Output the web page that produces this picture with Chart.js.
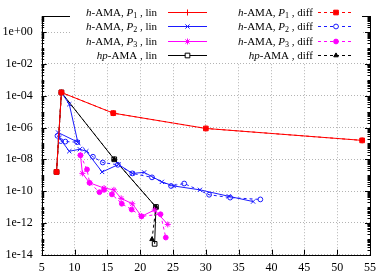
<!DOCTYPE html>
<html>
<head>
<meta charset="utf-8">
<script src="https://cdn.jsdelivr.net/npm/chart.js@4"></script>
<style>
  body { margin: 0; background: #fff; }
  canvas { display: block; }
</style>
</head>
<body>
<canvas id="errChart" width="382" height="274"></canvas>
<script>
// x axis ticks and y axis (log) ticks
const xTickStep = 5;
const yTickValues = [1e-14, 1e-12, 1e-10, 1e-8, 1e-6, 1e-4, 1e-2, 1e0];

// h-AMA, P1
const p1LinX = [7.26, 8.0, 15.9, 30.0, 53.8];
const p1LinY = [1.6e-9, 1.6e-4, 8e-6, 8.7e-7, 1.55e-7];
const p1DiffX = [7.26, 8.0, 15.9, 30.0, 53.8];
const p1DiffY = [1.6e-9, 1.6e-4, 8e-6, 8.7e-7, 1.55e-7];

// h-AMA, P2
const p2LinX = [8.0, 9.2, 10.5, 7.5, 7.7, 9.2, 10.8, 11.8, 14.2, 16.7, 18.8, 20.6, 23.3, 25.1, 29.1, 33.5, 37.2];
const p2LinY = [1.6e-4, 2.9e-5, 1.2e-7, 4.8e-7, 2.2e-7, 3.2e-8, 4.3e-8, 3.2e-8, 1.6e-9, 4.7e-9, 1.3e-9, 1.5e-9, 3.8e-10, 2.1e-10, 1.2e-10, 4.7e-11, 2.2e-11];
const p2DiffX = [7.4, 7.9, 8.6, 10.4, 12.8, 14.3, 16.6, 18.8, 21.8, 24.7, 26.7, 30.5, 33.7, 38.3];
const p2DiffY = [3.0e-7, 1.4e-7, 1.3e-7, 1.2e-7, 1.45e-8, 6.3e-9, 4.5e-9, 1.3e-9, 7.3e-10, 2.1e-10, 3.0e-10, 5.9e-11, 3.9e-11, 3.0e-11];

// h-AMA, P3
const p3LinX = [10.9, 11.2, 12.3, 14.5, 16.0, 17.1, 18.8, 20.2, 22.2, 24.2];
const p3LinY = [1.8e-8, 1.3e-9, 3.3e-10, 1.55e-10, 1.2e-10, 3.5e-11, 1.6e-11, 2.6e-12, 6.5e-12, 8e-13];
const p3DiffX = [10.9, 11.9, 12.3, 13.8, 14.5, 15.7, 17.2, 18.7, 20.2, 23.1, 23.9];
const p3DiffY = [1.8e-8, 2.3e-9, 3.3e-10, 8.5e-11, 1.2e-10, 6.2e-11, 1.6e-11, 6.9e-12, 2.6e-12, 3.5e-12, 1.2e-13];

// hp-AMA
const hpLinX = [7.26, 8.0, 16.05, 22.4, 22.2];
const hpLinY = [1.6e-9, 1.6e-4, 1e-8, 1e-11, 4.8e-14];
const hpDiffX = [7.26, 8.0, 16.05, 22.4, 21.8];
const hpDiffY = [1.6e-9, 1.6e-4, 1e-8, 1e-11, 9.3e-14];

const RED = '#ff0000';
const BLUE = '#1a1aff';
const MAG = '#ff00ff';
const BLK = '#000000';
const SERIF = '"Liberation Serif", "DejaVu Serif", serif';

function pts(xs, ys) {
    return xs.map((x, i) => ({ x: x, y: ys[i] }));
}

function markerSize(style) {
    if (style === 'rect') return 3.3;
    if (style === 'circle') return 2.4;
    if (style === 'triangle') return 2.6;
    return 3;
}

function series(label, xs, ys, color, style, fill, dashed) {
    return {
        label: label,
        data: pts(xs, ys),
        showLine: true,
        borderColor: color,
        borderWidth: 1,
        borderDash: dashed ? [3, 3] : [],
        pointStyle: style,
        pointRadius: markerSize(style),
        pointBorderColor: color,
        pointBackgroundColor: fill ? color : 'rgba(0,0,0,0)',
        pointBorderWidth: 1,
        fill: false,
        tension: 0
    };
}

function fmtExp(v) {
    const e = Math.round(Math.log10(v));
    return '1e' + (e < 0 ? '-' : '+') + String(Math.abs(e)).padStart(2, '0');
}

const legendItems = [
    { col: 0, row: 0, pre: 'h', sub: '1', tail: ' , lin', color: RED, style: 'cross', fill: false, dashed: false },
    { col: 1, row: 0, pre: 'h', sub: '1', tail: ' , diff', color: RED, style: 'rect', fill: true, dashed: true },
    { col: 0, row: 1, pre: 'h', sub: '2', tail: ' , lin', color: BLUE, style: 'crossRot', fill: false, dashed: false },
    { col: 1, row: 1, pre: 'h', sub: '2', tail: ' , diff', color: BLUE, style: 'circle', fill: false, dashed: true },
    { col: 0, row: 2, pre: 'h', sub: '3', tail: ' , lin', color: MAG, style: 'star', fill: false, dashed: false },
    { col: 1, row: 2, pre: 'h', sub: '3', tail: ' , diff', color: MAG, style: 'circle', fill: true, dashed: true },
    { col: 0, row: 3, pre: 'hp', sub: null, tail: ' , lin', color: BLK, style: 'rect', fill: false, dashed: false },
    { col: 1, row: 3, pre: 'hp', sub: null, tail: ' , diff', color: BLK, style: 'triangle', fill: true, dashed: true }
];

const legendPlugin = {
    id: 'gpLegend',
    afterDraw(chart) {
        const ctx = chart.ctx;
        ctx.save();
        ctx.fillStyle = '#fff';
        ctx.fillRect(70, 3, 292, 60);
        const textRight = [157, 313];
        const lineL = [168, 318];
        const lineR = [207, 354];
        const rowY = [12, 26, 41, 55];
        const nf = '11px ' + SERIF;
        const itf = 'italic 11px ' + SERIF;
        const sf = '8px ' + SERIF;
        legendItems.forEach(it => {
            const y = rowY[it.row];
            let parts;
            if (it.sub) {
                parts = [
                    [it.pre, itf, 0], ['-AMA, ', nf, 0], ['P', itf, 0], [it.sub, sf, 3], [it.tail, nf, 0]
                ];
            } else {
                parts = [[it.pre, itf, 0], ['-AMA', nf, 0], [it.tail, nf, 0]];
            }
            let w = 0;
            parts.forEach(p => { ctx.font = p[1]; w += ctx.measureText(p[0]).width; });
            let x = textRight[it.col] - w;
            ctx.fillStyle = '#000';
            ctx.textBaseline = 'middle';
            ctx.textAlign = 'left';
            parts.forEach(p => {
                ctx.font = p[1];
                ctx.fillText(p[0], x, y + 1 + p[2]);
                x += ctx.measureText(p[0]).width;
            });
            ctx.strokeStyle = it.color;
            ctx.lineWidth = 1;
            ctx.setLineDash(it.dashed ? [3, 3] : []);
            ctx.beginPath();
            ctx.moveTo(lineL[it.col], y + 0.5);
            ctx.lineTo(lineR[it.col], y + 0.5);
            ctx.stroke();
            ctx.setLineDash([]);
            ctx.fillStyle = it.fill ? it.color : '#fff';
            const mx = (lineL[it.col] + lineR[it.col]) / 2;
            Chart.helpers.drawPoint(ctx, {
                pointStyle: it.style,
                radius: markerSize(it.style),
                rotation: 0,
                borderWidth: 1
            }, mx, y + 0.5);
        });
        ctx.restore();
    }
};

const framePlugin = {
    id: 'gpFrame',
    afterDatasetsDraw(chart) {
        const ctx = chart.ctx;
        const a = chart.chartArea;
        const xs = chart.scales.x;
        const ys = chart.scales.y;
        ctx.save();
        ctx.strokeStyle = '#000';
        ctx.lineWidth = 1;
        ctx.beginPath();
        for (let v = xs.min; v <= xs.max; v += xTickStep) {
            const px = Math.round(xs.getPixelForValue(v)) + 0.5;
            ctx.moveTo(px, a.bottom); ctx.lineTo(px, a.bottom - 5);
            ctx.moveTo(px, a.top); ctx.lineTo(px, a.top + 5);
        }
        yTickValues.forEach(v => {
            const py = Math.round(ys.getPixelForValue(v)) + 0.5;
            ctx.moveTo(a.left, py); ctx.lineTo(a.left + 5, py);
            ctx.moveTo(a.right, py); ctx.lineTo(a.right - 5, py);
        });
        for (let d = -14; d <= 0; d++) {
            for (let k = 1; k <= 9; k++) {
                const v = k * Math.pow(10, d);
                if (v >= ys.max) continue;
                const py = Math.round(ys.getPixelForValue(v)) + 0.5;
                ctx.moveTo(a.left, py); ctx.lineTo(a.left + 2.5, py);
                ctx.moveTo(a.right, py); ctx.lineTo(a.right - 2.5, py);
            }
        }
        ctx.stroke();
        ctx.strokeRect(Math.round(a.left) + 0.5, Math.round(a.top) + 0.5,
            Math.round(a.right - a.left), Math.round(a.bottom - a.top));
        ctx.restore();
    }
};

function renderChart() {
    const ctx = document.getElementById('errChart');

    new Chart(ctx, {
        type: 'scatter',
        data: {
            datasets: [
                series('h-AMA, P1, lin', p1LinX, p1LinY, RED, 'cross', false, false),
                series('h-AMA, P1, diff', p1DiffX, p1DiffY, RED, 'rect', true, true),
                series('h-AMA, P2, lin', p2LinX, p2LinY, BLUE, 'crossRot', false, false),
                series('h-AMA, P2, diff', p2DiffX, p2DiffY, BLUE, 'circle', false, true),
                series('h-AMA, P3, lin', p3LinX, p3LinY, MAG, 'star', false, false),
                series('h-AMA, P3, diff', p3DiffX, p3DiffY, MAG, 'circle', true, true),
                series('hp-AMA, lin', hpLinX, hpLinY, BLK, 'rect', false, false),
                series('hp-AMA, diff', hpDiffX, hpDiffY, BLK, 'triangle', true, true)
            ]
        },
        options: {
            responsive: false,
            animation: false,
            events: [],
            layout: {
                padding: { left: 0, right: 8.5, top: 1.5, bottom: 0 }
            },
            plugins: {
                legend: { display: false },
                tooltip: { enabled: false }
            },
            scales: {
                x: {
                    type: 'linear',
                    min: 5,
                    max: 55,
                    afterFit: s => { s.height = 19.3; },
                    ticks: {
                        stepSize: xTickStep,
                        color: '#000',
                        padding: 6,
                        maxRotation: 0,
                        font: { family: SERIF, size: 12 }
                    },
                    grid: {
                        color: '#a0a0a0',
                        lineWidth: 0.8,
                        drawTicks: false
                    },
                    border: { display: false, dash: [1, 2] }
                },
                y: {
                    type: 'logarithmic',
                    min: 1e-14,
                    max: 10,
                    afterFit: s => { s.width = 41.7; },
                    afterBuildTicks: s => {
                        s.ticks = yTickValues.map(v => ({ value: v }));
                    },
                    ticks: {
                        color: '#000',
                        padding: 9,
                        autoSkip: false,
                        font: { family: SERIF, size: 12 },
                        callback: v => fmtExp(v)
                    },
                    grid: {
                        color: '#a0a0a0',
                        lineWidth: 0.8,
                        drawTicks: false
                    },
                    border: { display: false, dash: [1, 2] }
                }
            }
        },
        plugins: [framePlugin, legendPlugin]
    });
}

renderChart();
</script>
</body>
</html>
